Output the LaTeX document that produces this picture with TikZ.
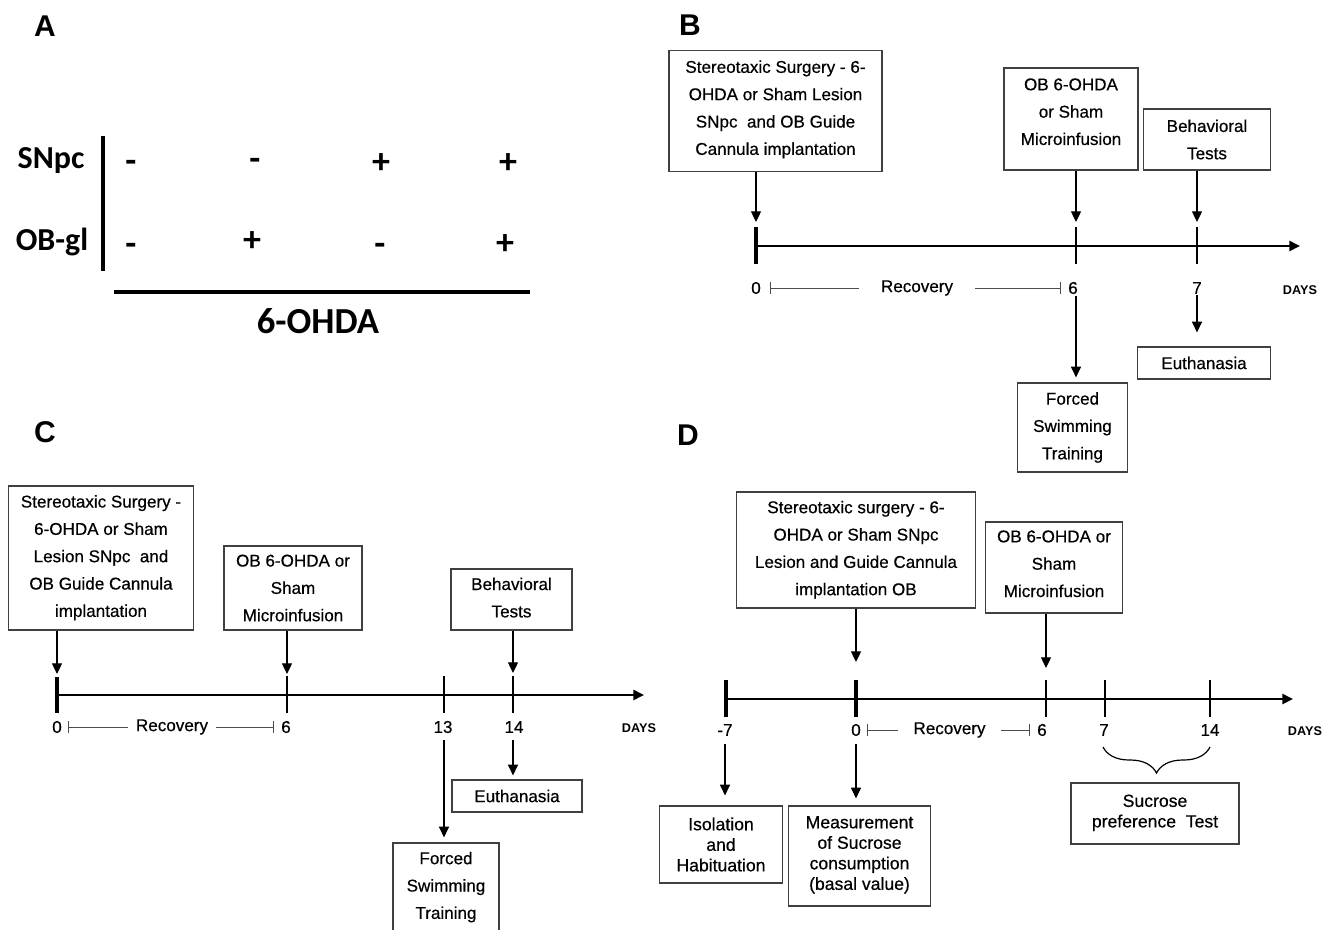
\documentclass[tikz,border=0pt]{standalone}
\usepackage{fontspec}
\setmainfont{Liberation Sans}
\newfontfamily\calfont{Carlito}
\newfontfamily\boxfont{Liberation Sans}[FakeBold=0.5]
\usetikzlibrary{arrows.meta,positioning,calc,decorations.pathreplacing}

\newcommand{\lift}[1]{\rule[-#1]{0pt}{#1}}

\tikzset{
  box/.style={draw=black!75, line width=0.9pt, align=center, inner sep=0pt,
    font=\boxfont\fontsize{12.8}{20.5}\selectfont},
  lowbox/.style={box, font=\boxfont\fontsize{13.2}{15.4}\selectfont},
  lbl/.style={inner sep=1pt, font=\boxfont\fontsize{12.8}{14}\selectfont},
  days/.style={inner sep=1pt, font=\bfseries\fontsize{9.5}{11}\selectfont},
  panel/.style={font=\bfseries\fontsize{22.5}{26}\selectfont},
  big/.style={font=\calfont\bfseries\fontsize{24}{28}\selectfont},
  sign/.style={font=\calfont\bfseries\fontsize{27}{30}\selectfont},
  arr/.style={-{Triangle[width=7.5pt,length=8pt]}, line width=0.9pt},
  axis/.style={-{Triangle[width=7.5pt,length=8pt]}, line width=1.9pt},
  major/.style={line width=2.8pt},
  minor/.style={line width=1.6pt},
  recline/.style={line width=0.6pt, draw=black!70},
}

\begin{document}
\begin{tikzpicture}[x=0.75pt, y=-0.75pt]
\useasboundingbox (0,0) rectangle (1336,929);

% A
\node[panel] (a-tag) at (45,26) {A};
\node[big] (a-snpc) at (51,161) {SNpc};
\node[big] (a-obgl) at (52,242) {OB-gl};
\draw[line width=2.4pt] (103,136) -- (103,271);
\foreach \x/\s/\y [count=\i] in {131/-/166,255/-/164,381/+/164,508/+/164}
  \node[sign] (a-top\i) at (\x,\y) {\s};
\foreach \x/\s/\y [count=\i] in {131/-/249,252/+/242,380/-/249,505/+/245}
  \node[sign] (a-bot\i) at (\x,\y) {\s};
\draw[line width=2.6pt] (114,292) -- (530,292);
\node[big, font=\calfont\bfseries\fontsize{27.5}{30}\selectfont] (a-drug) at (318,321) {6-OHDA};

% B
\node[panel] (b-tag) at (690,25) {B};
\node[box, minimum width=159.75pt, minimum height=90.75pt] (b-surg) at (775.5,111)
  {Stereotaxic Surgery - 6-\\OHDA or Sham Lesion\\SNpc\ \ and OB Guide\\Cannula implantation\lift{5pt}};
\node[box, minimum width=100.5pt, minimum height=76.5pt] (b-ob) at (1071,119)
  {OB 6-OHDA\\or Sham\\Microinfusion\lift{11pt}};
\node[box, minimum width=95.6pt, minimum height=45.75pt] (b-beh) at (1207,139.5) {Behavioral\\Tests};
\node[box, minimum width=82.5pt, minimum height=66.75pt] (b-swim) at (1072.5,427.5) {Forced\\Swimming\\Training};
\node[box, minimum width=100pt, minimum height=24pt] (b-euth) at (1204,363) {Euthanasia};

\coordinate (b0) at (756,246);
\coordinate (b6) at (1076,246);
\coordinate (b7) at (1197,246);
\coordinate (b-end) at (1300,246);
\draw[axis] (b0) -- (b-end);
\draw[major] (b0) ++(0,-19) -- ++(0,37);
\foreach \t in {b6,b7}
  \draw[minor] (\t) ++(0,-19) -- ++(0,37);
\draw[arr] (b-surg.south -| b0) -- ($(b0)+(0,-24)$);
\draw[arr] (b-ob.south -| b6) -- ($(b6)+(0,-24)$);
\draw[arr] (b-beh.south -| b7) -- ($(b7)+(0,-24)$);

\node[lbl] (b-n0) at (756,288) {0};
\node[lbl] (b-n6) at (1073,288) {6};
\node[lbl] (b-n7) at (1197,288) {7};
\node[days] (b-days) at (1300,290) {DAYS};
\node[lbl, inner xsep=16.5pt] (b-rec) at (917,288) {Recovery};
\coordinate (b-r0) at (770,288);
\coordinate (b-r6) at (1061,288);
\draw[recline, {Bar[width=9pt]}-] (b-r0) -- (b-rec.west);
\draw[recline, -{Bar[width=9pt]}] (b-rec.east) -- (b-r6);
\draw[arr, shorten >=3.75pt] (b-n6.south -| b6) -- (b-swim.north -| b6);
\draw[arr, shorten >=10.5pt] (b-n7.south -| b7) -- (b-euth.north -| b7);

% C
\node[panel] (c-tag) at (45,432) {C};
\node[box, minimum width=138.75pt, minimum height=108pt] (c-surg) at (101,558)
  {Stereotaxic Surgery -\\6-OHDA or Sham\\Lesion SNpc\ \ and\\OB Guide Cannula\\implantation\lift{3pt}};
\node[box, minimum width=103.5pt, minimum height=63pt] (c-ob) at (293,588) {OB 6-OHDA or\\Sham\\Microinfusion};
\node[box, minimum width=90.75pt, minimum height=45.75pt] (c-beh) at (511.5,599.5) {Behavioral\\Tests\lift{3pt}};
\node[box, minimum width=79.5pt, minimum height=72pt] (c-swim) at (446,891) {Forced\\Swimming\\Training\lift{8.5pt}};
\node[box, minimum width=97.5pt, minimum height=24pt] (c-euth) at (517,796) {Euthanasia};

\coordinate (c0) at (57,695);
\coordinate (c6) at (287,695);
\coordinate (c13) at (444,695);
\coordinate (c14) at (513,695);
\coordinate (c-end) at (644,695);
\draw[axis] (c0) -- (c-end);
\draw[major] (c0) ++(0,-18) -- ++(0,36);
\foreach \t in {c6,c13,c14}
  \draw[minor] (\t) ++(0,-19) -- ++(0,37);
\draw[arr] (c-surg.south -| c0) -- ($(c0)+(0,-21)$);
\draw[arr] (c-ob.south -| c6) -- ($(c6)+(0,-21)$);
\draw[arr] (c-beh.south -| c14) -- ($(c14)+(0,-22)$);

\node[lbl] (c-n0) at (57,727) {0};
\node[lbl] (c-n6) at (286,727) {6};
\node[lbl] (c-n13) at (443,727) {13};
\node[lbl] (c-n14) at (514,727) {14};
\node[days] (c-days) at (639,728) {DAYS};
\node[lbl, inner xsep=6pt] (c-rec) at (172,727) {Recovery};
\coordinate (c-r0) at (68,727);
\coordinate (c-r6) at (274,727);
\draw[recline, {Bar[width=9pt]}-] (c-r0) -- (c-rec.west);
\draw[recline, -{Bar[width=9pt]}] (c-rec.east) -- (c-r6);
\draw[arr, shorten <=4pt, shorten >=3.75pt] (c-n13.south -| c13) -- (c-swim.north -| c13);
\draw[arr, shorten <=4pt, shorten >=3pt] (c-n14.south -| c14) -- (c-euth.north -| c14);

% D
\node[panel] (d-tag) at (688,435) {D};
\node[box, minimum width=178.8pt, minimum height=87pt] (d-surg) at (856,550)
  {Stereotaxic surgery - 6-\\OHDA or Sham SNpc\\Lesion and Guide Cannula\\implantation OB\lift{3pt}};
\node[box, minimum width=102.75pt, minimum height=68.25pt] (d-ob) at (1054,567.5)
  {OB 6-OHDA or\\Sham\\Microinfusion\lift{5.7pt}};
\node[lowbox, minimum width=92.25pt, minimum height=57.75pt] (d-iso) at (721,844.5) {Isolation\\and\\Habituation};
\node[lowbox, minimum width=106.3pt, minimum height=75pt] (d-meas) at (859.5,856)
  {Measurement\\of Sucrose\\consumption\\(basal value)\lift{4.5pt}};
\node[lowbox, minimum width=126pt, minimum height=45.75pt] (d-suc) at (1155,813.5)
  {Sucrose\\preference\ \ Test\lift{3.75pt}};

\coordinate (dm7) at (726,699);
\coordinate (d0) at (856,699);
\coordinate (d6) at (1046,699);
\coordinate (d7) at (1105,699);
\coordinate (d14) at (1210,699);
\coordinate (d-end) at (1293,699);
\draw[axis] (dm7) -- (d-end);
\foreach \t in {dm7,d0}
  \draw[major] (\t) ++(0,-19) -- ++(0,37);
\foreach \t in {d6,d7,d14}
  \draw[minor] (\t) ++(0,-19) -- ++(0,37);
\draw[arr] (d-surg.south -| d0) -- ($(d0)+(0,-37)$);
\draw[arr] (d-ob.south -| d6) -- ($(d6)+(0,-31)$);

\node[lbl] (d-nm7) at (725,730) {-7};
\node[lbl] (d-n0) at (856,730) {0};
\node[lbl] (d-n6) at (1042,730) {6};
\node[lbl] (d-n7) at (1104,730) {7};
\node[lbl] (d-n14) at (1210,730) {14};
\node[days] (d-days) at (1305,731) {DAYS};
\node[lbl, inner xsep=11.25pt] (d-rec) at (949.5,730) {Recovery};
\coordinate (d-r0) at (867,730);
\coordinate (d-r6) at (1030,730);
\draw[recline, {Bar[width=9pt]}-] (d-r0) -- (d-rec.west);
\draw[recline, -{Bar[width=9pt]}] (d-rec.east) -- (d-r6);
\draw[arr, shorten <=5pt, shorten >=7.5pt] (d-nm7.south) -- (d-iso.north -| d-nm7);
\draw[arr, shorten <=5pt, shorten >=5.25pt] (d-n0.south) -- (d-meas.north -| d-n0);

\coordinate (d-b7) at (1103,747);
\coordinate (d-b14) at (1210,747);
\draw[line width=0.9pt, decorate, decoration={brace, mirror, amplitude=19.5pt}] (d-b7) -- (d-b14);

\end{tikzpicture}
\end{document}
